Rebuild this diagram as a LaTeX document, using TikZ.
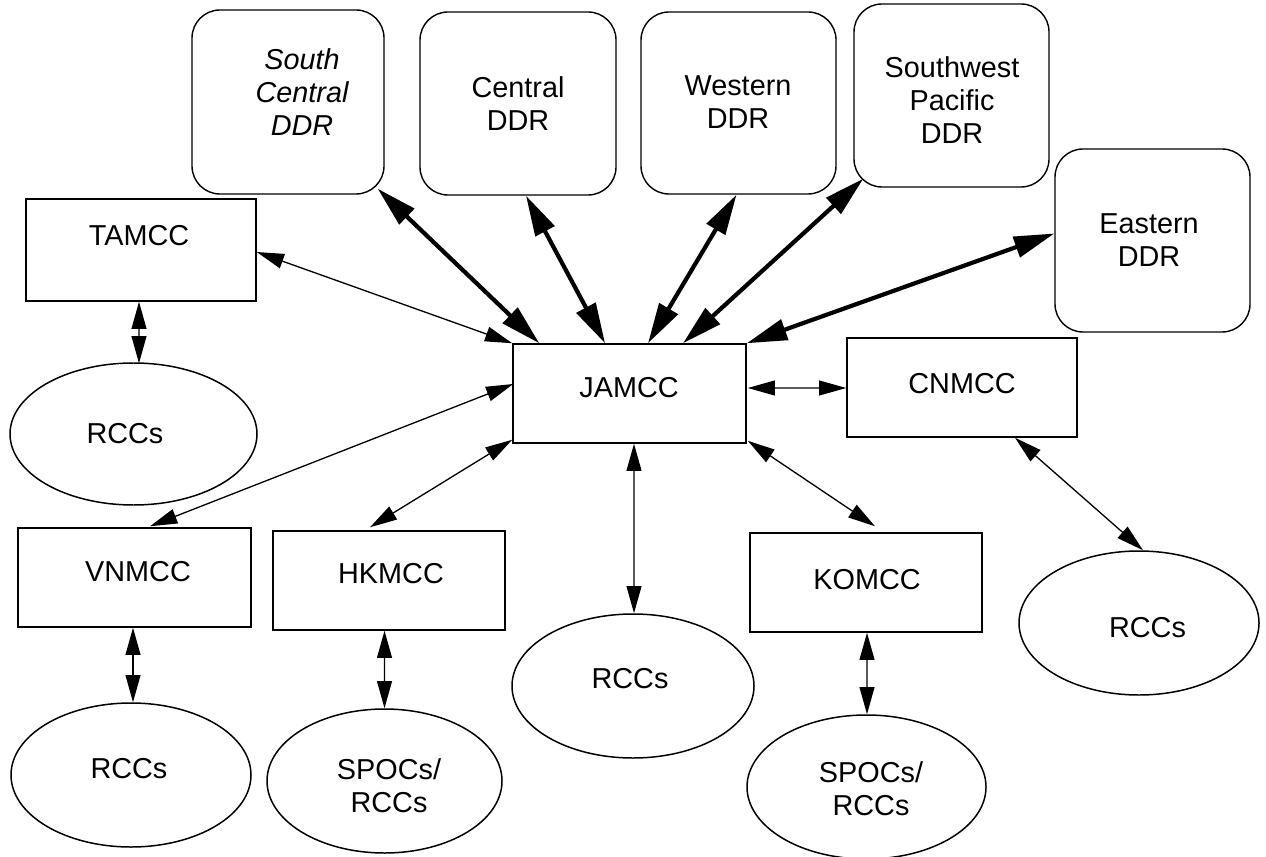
\documentclass[tikz,border=0pt]{standalone}
\usepackage{fontspec}
\setmainfont{Liberation Sans}
\usetikzlibrary{arrows.meta,shapes.geometric,calc}

\begin{document}
\begin{tikzpicture}[x=0.02cm,y=-0.02cm,
  txt/.style={align=center, inner sep=0pt, font=\fontsize{16.4pt}{18.8pt}\selectfont},
  ddrbox/.style 2 args={draw, line width=0.8pt, rounded corners=0.56cm, inner sep=0pt,
    minimum width=#1*0.02cm, minimum height=#2*0.02cm},
  mccbox/.style 2 args={draw, line width=0.85pt, rectangle, inner sep=0pt,
    minimum width=#1*0.02cm, minimum height=#2*0.02cm},
  rccell/.style 2 args={draw, line width=0.85pt, ellipse, inner sep=0pt,
    minimum width=#1*0.02cm, minimum height=#2*0.02cm},
  thinarrow/.style={line width=0.75pt,
    {Triangle[length=15.5pt,width=8.5pt]}-{Triangle[length=15.5pt,width=8.5pt]}},
  fatarrow/.style={line width=2.4pt,
    {Triangle[length=23pt,width=12pt]}-{Triangle[length=23pt,width=12pt]}}]

\useasboundingbox (0,0) rectangle (1266,857);

% regional DDR boxes
\node[ddrbox={192}{184}] (sc)  at (288,102)    {};
\node[ddrbox={196}{183}] (cen) at (518,103.5)  {};
\node[ddrbox={195}{182}] (wes) at (738.5,103)  {};
\node[ddrbox={195}{183}] (swp) at (951.5,95.5) {};
\node[ddrbox={195}{183}] (eas) at (1152.5,240.5) {};
\node[txt] (scT)  at (302,92)    {\itshape South\\\itshape Central\\\itshape DDR};
\node[txt] (cenT) at (518,104)   {Central\\DDR};
\node[txt] (wesT) at (738,102.5) {Western\\DDR};
\node[txt] (swpT) at (952,100)   {Southwest\\Pacific\\DDR};
\node[txt] (easT) at (1149,240)  {Eastern\\DDR};

% mission control centres
\node[mccbox={230}{102}] (tam) at (141,250)     {};
\node[mccbox={233}{99}]  (jam) at (629.5,393.5) {};
\node[mccbox={230}{99}]  (cn)  at (962,387.5)   {};
\node[mccbox={233}{99}]  (vn)  at (134.5,577.5) {};
\node[mccbox={232}{99}]  (hk)  at (389,580.5)   {};
\node[mccbox={232}{99}]  (ko)  at (866,582.5)   {};
\node[txt] (tamT) at (139,236)   {TAMCC};
\node[txt] (jamT) at (629,387.5) {JAMCC};
\node[txt] (cnT)  at (962,384)   {CNMCC};
\node[txt] (vnT)  at (138,572)   {VNMCC};
\node[txt] (hkT)  at (391,574)   {HKMCC};
\node[txt] (koT)  at (867,580)   {KOMCC};

% rescue coordination centres
\node[rccell={247}{142}] (rta) at (133.5,434) {};
\node[rccell={240}{144}] (rvn) at (131,775)   {};
\node[rccell={235}{144}] (shk) at (384.5,781) {};
\node[rccell={242}{144}] (rja) at (633,686)   {};
\node[rccell={239}{144}] (sko) at (866.5,787) {};
\node[rccell={240}{144}] (rcn) at (1139,623)  {};
\node[txt] (rtaT) at (125,434)    {RCCs};
\node[txt] (rvnT) at (129,769)    {RCCs};
\node[txt] (shkT) at (389,785.5)  {SPOCs/\\RCCs};
\node[txt] (rjaT) at (630,679)    {RCCs};
\node[txt] (skoT) at (871,788.5)  {SPOCs/\\RCCs};
\node[txt] (rcnT) at (1147.5,627.5) {RCCs};

% DDR links
\draw[fatarrow] ($(sc.south east)+(-7,-6)$) -- ($(jam.north west)+(27,0)$);
\draw[fatarrow] ($(cen.south)+(8,0)$) -- ($(jam.north)+(-24.5,0)$);
\draw[fatarrow] ($(wes.south)+(-2,0)$) -- ($(jam.north)+(18.5,0)$);
\draw[fatarrow] ($(swp.south west)+(10,-9)$) -- ($(jam.north)+(53.5,0)$);
\draw[fatarrow] ($(eas.west)+(0,-7)$) -- (jam.north east);

% MCC links
\draw[thinarrow] ($(tam.east)+(0,2)$) -- (jam.north west);
\draw[thinarrow] ($(tam.south)+(-2,0)$) -- ($(rta.north)+(5.5,1)$);
\draw[thinarrow] ($(vn.north)+(15.5,-1)$) -- ($(jam.west)+(1,-9.5)$);
\draw[thinarrow] ($(hk.north)+(-19,-3)$) -- ($(jam.south west)+(0,-4)$);
\draw[thinarrow] ($(jam.east)+(1,-5.5)$) -- ($(cn.west)+(0,0.5)$);
\draw[thinarrow] ($(jam.south east)+(1,-3)$) -- ($(ko.north)+(9,-6)$);
\draw[thinarrow] ($(cn.south)+(53,0)$) -- ($(rcn.north)+(4,0)$);
\draw[thinarrow] ($(vn.south)+(-1.5,0)$) -- ($(rvn.north)+(2,0)$);
\draw[thinarrow] ($(hk.south)+(-4.5,0)$) -- (shk.north);
\draw[thinarrow] ($(ko.south)+(1,0)$) -- ($(sko.north)+(0.5,0)$);
\draw[thinarrow] ($(jam.south)+(4.5,0)$) -- ($(rja.north)+(1,0)$);

\end{tikzpicture}
\end{document}
